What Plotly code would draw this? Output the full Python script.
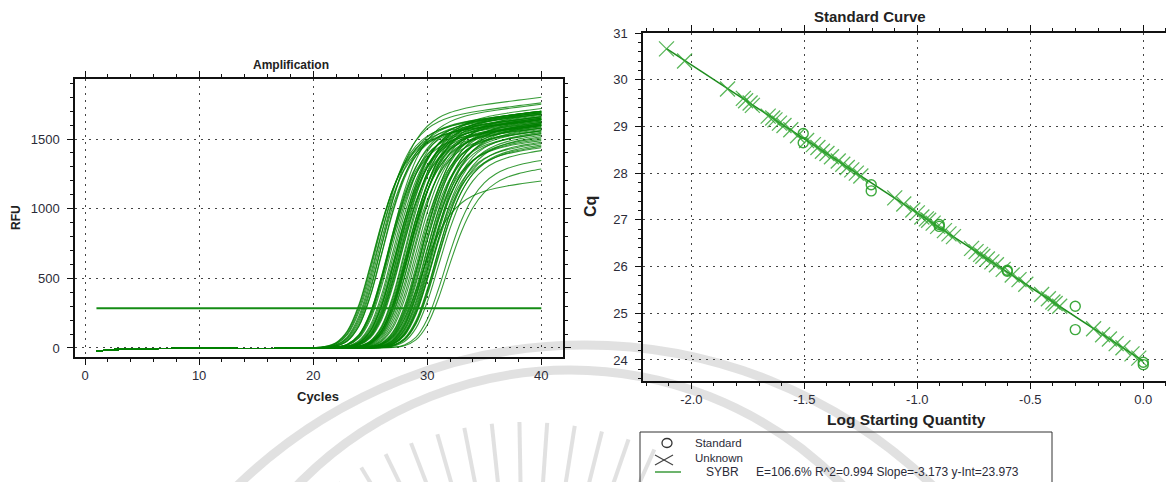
import math
import plotly.graph_objects as go

W, H = 1167, 482
FONT = "Liberation Sans, Arial, sans-serif"
TXT = "#2b2b38"
GREEN = "rgba(0,128,0,0.78)"


def px(x):
    return x / W


def py(y):
    return 1 - y / H


# ---------------- amplification run ----------------
cycles = list(range(1, 41))
threshold_rfu = 285
baseline_rfu = [-24, -15, -10, -8, -6, -5, -4, -3, -2, -1,
                -1, -2, -3, -4, -4, -4, -3, -2, -1, 0,
                0, 0, 0, 0, 0, 0, 0, 0, 0, 0,
                0, 0, 0, 0, 0, 0, 0, 0, 0, 0]

# shape of the amplification model shared by every well
rise_scale = 1.5      # cycles
asymmetry = 2.5
plateau_drift = 10    # RFU per cycle in the plateau phase

# ---------------- wells: standards ----------------
std_log_qty = [0.0, 0.0, -0.301, -0.301, -0.602, -0.602,
               -0.903, -0.903, -1.204, -1.204, -1.505, -1.505]
std_cq = [23.90, 23.95, 24.65, 25.15, 25.90, 25.92,
          26.86, 26.90, 27.62, 27.75, 28.65, 28.85]
std_plateau = [1640, 1660, 1700, 1620, 1680, 1600,
               1650, 1580, 1610, 1560, 1540, 1500]

# ---------------- wells: unknowns ----------------
unk_log_qty = [-2.11, -2.03, -1.84, -1.77, -1.76, -1.74, -1.73, -1.66, -1.64, -1.63,
               -1.61, -1.59, -1.56, -1.53, -1.49, -1.46, -1.44, -1.42, -1.40, -1.38,
               -1.35, -1.33, -1.31, -1.29, -1.27, -1.25, -1.10, -1.06, -1.02, -1.00,
               -0.98, -0.96, -0.95, -0.93, -0.91, -0.88, -0.86, -0.84, -0.76, -0.74,
               -0.72, -0.71, -0.69, -0.67, -0.65, -0.62, -0.58, -0.55, -0.52, -0.45,
               -0.42, -0.40, -0.39, -0.37, -0.22, -0.18, -0.15, -0.12, -0.09, -0.05, -0.02]
unk_cq = [30.66, 30.40, 29.80, 29.60, 29.55, 29.50, 29.45, 29.22, 29.18, 29.14,
          29.07, 29.02, 28.93, 28.80, 28.70, 28.61, 28.55, 28.47, 28.42, 28.35,
          28.26, 28.19, 28.12, 28.07, 28.00, 27.94, 27.47, 27.34, 27.21, 27.15,
          27.06, 27.02, 26.99, 26.93, 26.86, 26.77, 26.70, 26.64, 26.39, 26.32,
          26.26, 26.22, 26.16, 26.10, 26.04, 25.94, 25.82, 25.72, 25.62, 25.40,
          25.31, 25.24, 25.21, 25.15, 24.67, 24.54, 24.45, 24.35, 24.26, 24.13, 24.04]
unk_plateau = [1290, 1350, 1420, 1460, 1450, 1520, 1480, 1530, 1440, 1470,
               1550, 1600, 1510, 1580, 1620, 1490, 1600, 1560, 1200, 1640,
               1540, 1590, 1680, 1610, 1570, 1630, 1650, 1600, 1690, 1560,
               1640, 1700, 1620, 1590, 1660, 1610, 1690, 1720, 1640, 1600,
               1670, 1580, 1650, 1700, 1630, 1680, 1610, 1660, 1700, 1640,
               1690, 1750, 1600, 1660, 1680, 1800, 1650, 1700, 1760, 1640, 1690]

# ---------------- standard curve fit ----------------
fit_slope = -3.173
fit_intercept = 23.973
fit_r2 = 0.994
fit_efficiency = (10 ** (-1 / fit_slope) - 1) * 100
fluor = "SYBR"


def amplification_curve(cq, plateau):
    """RFU per cycle for one well; the curve crosses the threshold at its Cq."""
    amp_at_cq = plateau - plateau_drift * (40 - cq)
    mid = cq + rise_scale * math.log((amp_at_cq / threshold_rfu) ** (1 / asymmetry) - 1)
    out = []
    for c, b in zip(cycles, baseline_rfu):
        amp = plateau - plateau_drift * (40 - c)
        frac = (1 + math.exp(-(c - mid) / rise_scale)) ** (-asymmetry)
        out.append(b + amp * frac)
    return out


fig = go.Figure()

# amplification curves, one per well
for cq, plat in zip(std_cq + unk_cq, std_plateau + unk_plateau):
    fig.add_trace(go.Scatter(
        x=cycles, y=amplification_curve(cq, plat), mode="lines",
        line=dict(color=GREEN, width=1.1, shape="spline"),
        xaxis="x", yaxis="y", showlegend=False, hoverinfo="skip"))

# threshold line
fig.add_trace(go.Scatter(
    x=[cycles[0], cycles[-1]], y=[threshold_rfu, threshold_rfu], mode="lines",
    line=dict(color="rgb(20,140,20)", width=2), xaxis="x", yaxis="y",
    showlegend=False, hoverinfo="skip"))

# standard curve: fitted line over the data span
all_log = std_log_qty + unk_log_qty
lx = [min(all_log), max(all_log)]
fig.add_trace(go.Scatter(
    x=lx, y=[fit_slope * v + fit_intercept for v in lx], mode="lines",
    line=dict(color="rgb(30,140,30)", width=1.5), xaxis="x2", yaxis="y2",
    showlegend=False, hoverinfo="skip"))

fig.add_trace(go.Scatter(
    x=unk_log_qty, y=unk_cq, mode="markers",
    marker=dict(symbol="x-thin-open", size=15, color="rgba(50,165,50,0.8)",
                line=dict(color="rgba(50,165,50,0.8)", width=1.3)),
    xaxis="x2", yaxis="y2", showlegend=False, hoverinfo="skip"))

fig.add_trace(go.Scatter(
    x=std_log_qty, y=std_cq, mode="markers",
    marker=dict(symbol="circle-open", size=10, color="rgba(40,160,40,0.9)",
                line=dict(color="rgba(40,160,40,0.9)", width=1.4)),
    xaxis="x2", yaxis="y2", showlegend=False, hoverinfo="skip"))

axis_common = dict(
    showline=True, linecolor="#111", linewidth=1.5, automargin=False,
    ticks="outside", tickcolor="#111", tickwidth=1.2, ticklen=6,
    showgrid=True, gridcolor="#444", gridwidth=1, griddash="2px,5px",
    zeroline=False, tickfont=dict(family=FONT, size=13, color=TXT),
)

right_xticks = [-2.0, -1.5, -1.0, -0.5, 0.0]

fig.update_layout(
    width=W, height=H, autosize=False,
    margin=dict(l=0, r=0, t=0, b=0, pad=0, autoexpand=False),
    paper_bgcolor="white", plot_bgcolor="rgba(0,0,0,0)",
    font=dict(family=FONT, color=TXT),
    xaxis=dict(axis_common, domain=[px(75), px(563)], range=[-0.88, 41.9],
               tick0=0, dtick=10, mirror="allticks", anchor="y",
               minor=dict(ticks="outside", dtick=2, tick0=0, ticklen=3,
                          tickcolor="#111", showgrid=False)),
    yaxis=dict(axis_common, domain=[py(357), py(79)], range=[-65, 1931],
               tick0=0, dtick=500, mirror="allticks", anchor="x",
               ticklabelstandoff=5,
               minor=dict(ticks="outside", dtick=100, tick0=0, ticklen=3,
                          tickcolor="#111", showgrid=False)),
    xaxis2=dict(axis_common, domain=[px(643), px(1166)], range=[-2.214, 0.1005],
                tickmode="array", tickvals=right_xticks,
                ticktext=[f"{v:.1f}" for v in right_xticks],
                mirror="allticks", anchor="y2",
                minor=dict(ticks="outside", dtick=0.1, tick0=0, ticklen=3,
                           tickcolor="#111", showgrid=False)),
    yaxis2=dict(axis_common, domain=[py(381), py(33)], range=[23.55, 31.0],
                tick0=0, dtick=1, mirror=False, anchor="x2",
                ticklabelstandoff=5,
                minor=dict(ticks="outside", dtick=0.2, tick0=0, ticklen=3,
                           tickcolor="#111", showgrid=False)),
)

# axis and chart titles
titles = [
    ("Amplification", 291, 65, 12, 0),
    ("Cycles", 318, 396, 13, 0),
    ("RFU", 16, 218, 12, -90),
    ("Standard Curve", 870, 17, 15, 0),
    ("Log Starting Quantity", 906, 419, 15.5, 0),
    ("Cq", 590, 207, 16, -90),
]
for text, x, y, size, ang in titles:
    fig.add_annotation(text=f"<b>{text}</b>", x=px(x), y=py(y), xref="paper", yref="paper",
                       showarrow=False, xanchor="center", yanchor="middle", textangle=ang,
                       font=dict(family=FONT, size=size, color="#222"))

# faint emblem behind the charts
EMBLEM = "rgba(205,205,205,0.6)"
shapes = []
for cx, cy, r in [(585, 845, 500), (570, 750, 380)]:
    shapes.append(dict(type="circle", xref="paper", yref="paper",
                       x0=px(cx - r), x1=px(cx + r), y0=py(cy + r), y1=py(cy - r),
                       line=dict(color=EMBLEM, width=9), layer="below"))
ray_cx, ray_cy = 525, 740
for ang in range(-36, 29, 5):
    a = math.radians(ang)
    r0, r1 = 240, 318
    shapes.append(dict(type="line", xref="paper", yref="paper",
                       x0=px(ray_cx + r0 * math.sin(a)), y0=py(ray_cy - r0 * math.cos(a)),
                       x1=px(ray_cx + r1 * math.sin(a)), y1=py(ray_cy - r1 * math.cos(a)),
                       line=dict(color=EMBLEM, width=4), layer="below"))

# legend box of the standard curve
shapes.append(dict(type="rect", xref="paper", yref="paper", x0=px(640), x1=px(1052),
                   y0=py(500), y1=py(432), line=dict(color="#333", width=1), layer="above"))
shapes.append(dict(type="circle", xref="paper", yref="paper", x0=px(662), x1=px(672),
                   y0=py(447.5), y1=py(438.5), line=dict(color="#333", width=1.3), layer="above"))
for (x0, y0, x1, y1) in [(655, 455, 673, 465), (655, 465, 673, 455)]:
    shapes.append(dict(type="line", xref="paper", yref="paper", x0=px(x0), y0=py(y0),
                       x1=px(x1), y1=py(y1), line=dict(color="#444", width=1.2), layer="above"))
shapes.append(dict(type="line", xref="paper", yref="paper", x0=px(655), x1=px(681),
                   y0=py(472), y1=py(472), line=dict(color="rgb(30,140,30)", width=1.3),
                   layer="above"))
fig.update_layout(shapes=shapes)

legend_text = [
    ("Standard", 693, 443, 11.5),
    ("Unknown", 693, 457.5, 11.5),
    (fluor, 704, 472, 12),
    (f"E={fit_efficiency:.1f}% R^2={fit_r2:.3f} Slope={fit_slope:.3f} y-Int={fit_intercept:.3f}",
     754, 472, 12),
]
for text, x, y, size in legend_text:
    fig.add_annotation(text=text, x=px(x), y=py(y), xref="paper", yref="paper",
                       showarrow=False, xanchor="left", yanchor="middle",
                       font=dict(family=FONT, size=size, color=TXT))

fig.write_html("out.html")
